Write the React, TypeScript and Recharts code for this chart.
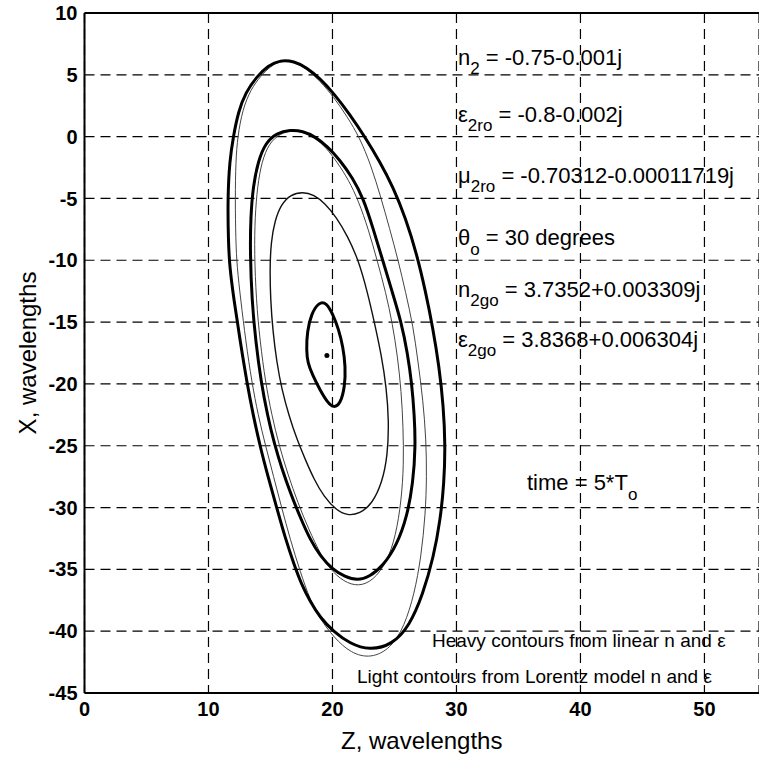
import { ComposedChart, Line, Scatter, XAxis, YAxis, CartesianGrid, ReferenceLine } from "recharts";

// contour traces, [Z, X] in wavelengths
// closed curves: the last point joins back to the first
const HEAVY_OUTER = [
  [11.6, -8.4], [11.55, -5.0], [11.7, -2.0], [12.0, 0.0], [12.4, 2.0], [13.0, 3.6], [13.9, 4.85],
  [14.8, 5.75], [15.8, 6.2], [16.9, 6.1], [17.9, 5.6], [19.0, 4.7], [20.1, 3.5], [21.4, 1.8],
  [22.6, 0.0], [23.8, -2.0], [24.9, -4.1], [25.9, -6.6], [26.8, -9.5], [27.5, -12.5], [28.1, -15.5],
  [28.6, -18.6], [28.95, -21.8], [29.1, -25.0], [29.0, -28.0], [28.7, -31.0], [28.15, -34.0],
  [27.3, -37.0], [26.2, -39.6], [24.8, -41.1], [23.0, -41.55], [21.4, -41.0], [20.1, -40.05],
  [19.0, -38.9], [18.2, -37.6], [17.5, -36.2], [16.9, -34.6], [16.2, -32.5], [15.5, -30.0],
  [14.8, -27.5], [14.15, -25.0], [13.6, -22.5], [13.1, -19.9], [12.55, -16.5], [12.05, -13.2],
  [11.7, -10.5],
];
const LIGHT_OUTER = [
  [12.2, -8.4], [12.15, -5.0], [12.2, -2.0], [12.35, 0.0], [12.75, 2.2], [13.4, 3.8], [14.2, 4.9],
  [15.0, 5.7], [15.9, 6.15], [16.9, 6.05], [17.9, 5.5], [19.0, 4.5], [20.1, 3.2], [21.2, 1.6],
  [22.2, -0.1], [23.1, -2.3], [23.9, -4.9], [24.6, -7.4], [25.3, -10.0], [25.9, -12.6],
  [26.5, -15.3], [26.9, -18.2], [27.3, -21.3], [27.55, -24.5], [27.6, -27.5], [27.5, -30.5],
  [27.15, -34.0], [26.6, -37.0], [25.8, -39.6], [24.7, -41.4], [23.1, -42.2], [21.5, -41.8],
  [20.1, -40.5], [19.0, -39.0], [18.2, -37.5], [17.4, -35.2], [16.6, -32.6], [15.9, -30.0],
  [15.25, -27.5], [14.6, -25.0], [14.0, -22.5], [13.5, -19.9], [13.0, -16.5], [12.6, -13.2],
  [12.3, -10.5],
];
const HEAVY_MID = [
  [13.36, -9.4], [13.4, -6.5], [13.6, -4.0], [14.0, -2.0], [14.6, -0.5], [15.5, 0.3], [16.6, 0.55],
  [17.6, 0.45], [18.6, 0.0], [19.6, -0.8], [20.6, -1.9], [21.6, -3.3], [22.5, -5.0], [23.3, -7.5],
  [24.05, -10.0], [24.8, -12.5], [25.55, -15.0], [26.05, -17.5], [26.4, -20.0], [26.6, -22.5],
  [26.7, -25.0], [26.5, -28.0], [26.0, -30.8], [25.2, -33.0], [24.1, -34.7], [23.0, -35.6],
  [22.0, -35.9], [21.0, -35.6], [20.0, -35.0], [19.0, -33.9], [18.2, -32.6], [17.4, -30.8],
  [16.6, -28.8], [15.9, -26.8], [15.3, -24.8], [14.75, -22.5], [14.25, -19.9], [13.8, -16.5],
  [13.5, -13.2],
];
const LIGHT_MID = [
  [13.7, -9.4], [13.75, -6.5], [13.95, -4.0], [14.3, -2.0], [14.9, -0.5], [15.8, 0.25], [16.7, 0.5],
  [17.6, 0.4], [18.6, -0.1], [19.5, -0.9], [20.4, -2.1], [21.3, -3.5], [22.1, -5.2], [22.9, -7.5],
  [23.6, -10.0], [24.3, -12.6], [24.85, -15.2], [25.25, -17.8], [25.55, -20.6], [25.7, -23.5],
  [25.75, -26.5], [25.55, -29.5], [25.1, -32.3], [24.4, -34.4], [23.3, -35.9], [22.1, -36.4],
  [20.9, -36.0], [19.8, -35.0], [19.0, -33.7], [18.1, -31.8], [17.2, -29.6], [16.4, -27.3],
  [15.7, -25.0], [15.1, -22.5], [14.6, -19.9], [14.15, -16.5], [13.85, -13.2],
];
const THIN_INNER = [
  [14.95, -10.5], [15.05, -8.5], [15.35, -6.8], [15.85, -5.5], [16.6, -4.7], [17.6, -4.45],
  [18.5, -4.7], [19.4, -5.4], [20.3, -6.5], [21.2, -8.0], [22.1, -10.0], [22.8, -12.5],
  [23.4, -15.1], [23.95, -17.7], [24.35, -20.3], [24.55, -23.0], [24.45, -25.8], [24.0, -28.0],
  [23.2, -29.7], [22.2, -30.5], [21.2, -30.65], [20.3, -30.2], [19.3, -29.1], [18.5, -27.7],
  [17.8, -26.1], [17.1, -24.4], [16.5, -22.6], [15.9, -20.4], [15.5, -18.2], [15.2, -15.8],
  [15.0, -13.2],
];
const HEAVY_SMALL = [
  [17.9, -17.3], [17.95, -15.8], [18.3, -14.3], [18.9, -13.4], [19.5, -13.4], [20.05, -14.4],
  [20.5, -15.6], [20.85, -17.0], [21.05, -18.6], [21.0, -20.2], [20.65, -21.6], [20.1, -21.95],
  [19.6, -21.5], [19.0, -20.5], [18.4, -19.3], [18.0, -18.3],
];
const CENTER_DOT = [[19.55, -17.7]];

const X_TICKS = [0, 10, 20, 30, 40, 50];
const Y_TICKS = [-45, -40, -35, -30, -25, -20, -15, -10, -5, 0, 5, 10];

const toRows = (pts: number[][]) => pts.map(([z, x]) => ({ z, x }));

const FONT = "'Liberation Sans', Arial, Helvetica, sans-serif";

function Annotations() {
  const base = { fontFamily: FONT, fontSize: 22, fill: "#000" } as const;
  const sub = 17;
  return (
    <svg width={759} height={758} style={{ position: "absolute", left: 0, top: 0, pointerEvents: "none" }}>
      <text x={458} y={65} {...base}>
        n<tspan fontSize={sub} dy={9}>2</tspan>
        <tspan dy={-9}> = -0.75-0.001j</tspan>
      </text>
      <text x={458} y={122} {...base}>
        ε<tspan fontSize={sub} dy={9}>2ro</tspan>
        <tspan dy={-9}> = -0.8-0.002j</tspan>
      </text>
      <text x={458} y={183} {...base}>
        μ<tspan fontSize={sub} dy={9}>2ro</tspan>
        <tspan dy={-9}> = -0.70312-0.00011719j</tspan>
      </text>
      <text x={458} y={245} {...base}>
        θ<tspan fontSize={sub} dy={10}>o</tspan>
        <tspan dy={-10}> = 30 degrees</tspan>
      </text>
      <text x={458} y={297} {...base}>
        n<tspan fontSize={sub} dy={9}>2go</tspan>
        <tspan dy={-9}> = 3.7352+0.003309j</tspan>
      </text>
      <text x={458} y={347} {...base}>
        ε<tspan fontSize={sub} dy={9}>2go</tspan>
        <tspan dy={-9}> = 3.8368+0.006304j</tspan>
      </text>
      <text x={527} y={490} {...base}>
        time = 5*T<tspan fontSize={sub} dy={10}>o</tspan>
      </text>
      <text x={432} y={647} fontFamily={FONT} fontSize={19} fill="#000">
        Heavy contours from linear n and ε
      </text>
      <text x={357} y={683} fontFamily={FONT} fontSize={19} fill="#000">
        Light contours from Lorentz model n and ε
      </text>
    </svg>
  );
}

export default function App() {
  const tick = { fill: "#000", fontSize: 20, fontWeight: 700, fontFamily: FONT };
  return (
    <div style={{ position: "absolute", left: 0, top: 0, width: 759, height: 758, background: "#fff" }}>
      <ComposedChart width={759} height={758} margin={{ top: 13, right: 0, bottom: 0, left: 24.5 }}>
        <CartesianGrid stroke="#000" strokeWidth={1.2} strokeDasharray="10 6" />
        <XAxis
          dataKey="z"
          type="number"
          domain={[0, 54.4]}
          allowDataOverflow
          ticks={X_TICKS}
          height={65}
          tickLine={false}
          tickSize={0}
          tickMargin={9}
          tick={tick}
          axisLine={{ stroke: "#000", strokeWidth: 2 }}
          label={{ value: "Z, wavelengths", position: "insideBottom", offset: 9, fill: "#000", fontSize: 24, fontFamily: FONT }}
        />
        <YAxis
          dataKey="x"
          type="number"
          domain={[-45, 10]}
          allowDataOverflow
          ticks={Y_TICKS}
          width={60}
          tickLine={false}
          tickSize={0}
          tickMargin={7}
          tick={tick}
          axisLine={{ stroke: "#000", strokeWidth: 2 }}
          label={{
            value: "X, wavelengths",
            angle: -90,
            position: "insideLeft",
            offset: 3,
            fill: "#000",
            fontSize: 24,
            fontFamily: FONT,
            style: { textAnchor: "middle" },
          }}
        />
        <ReferenceLine y={10} stroke="#000" strokeWidth={2} />
        <Line data={toRows(LIGHT_OUTER)} dataKey="x" type="basisClosed" stroke="#444" strokeWidth={1} dot={false} isAnimationActive={false} />
        <Line data={toRows(LIGHT_MID)} dataKey="x" type="basisClosed" stroke="#444" strokeWidth={1} dot={false} isAnimationActive={false} />
        <Line data={toRows(THIN_INNER)} dataKey="x" type="basisClosed" stroke="#111" strokeWidth={1.4} dot={false} isAnimationActive={false} />
        <Line data={toRows(HEAVY_OUTER)} dataKey="x" type="basisClosed" stroke="#000" strokeWidth={3} dot={false} isAnimationActive={false} />
        <Line data={toRows(HEAVY_MID)} dataKey="x" type="basisClosed" stroke="#000" strokeWidth={3} dot={false} isAnimationActive={false} />
        <Line data={toRows(HEAVY_SMALL)} dataKey="x" type="basisClosed" stroke="#000" strokeWidth={3} dot={false} isAnimationActive={false} />
        <Scatter data={toRows(CENTER_DOT)} dataKey="x" fill="#000" shape={(p: any) => <circle cx={p.cx} cy={p.cy} r={2.5} fill="#000" />} isAnimationActive={false} />
      </ComposedChart>
      <Annotations />
    </div>
  );
}
